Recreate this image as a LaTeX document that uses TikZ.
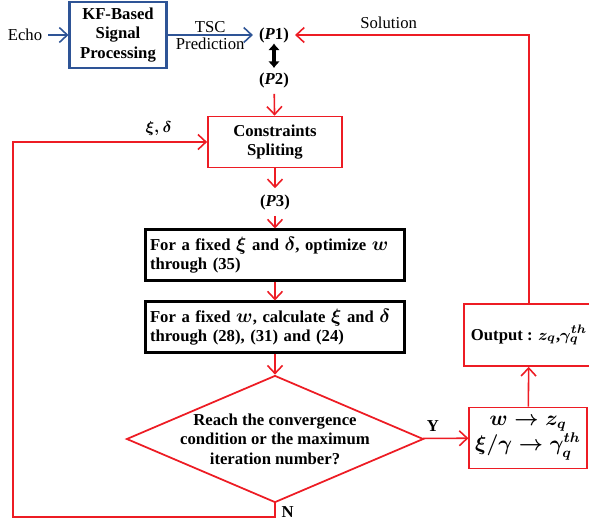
\documentclass[tikz,border=0pt]{standalone}
\usepackage{fontspec}
\setmainfont{Liberation Serif}
\usepackage{amsmath}
\usepackage{bm}
\usepackage{tikz}
\usepackage{xcolor}
\usetikzlibrary{shapes.geometric, arrows.meta, positioning, calc}
\definecolor{cRed}{RGB}{237,28,36}
\definecolor{cBlue}{RGB}{46,84,150}
\newcommand{\basefont}{\fontsize{9.5}{11}\selectfont}
\newcommand{\lgm}[1]{{\fontsize{11}{11}\selectfont$#1$}}
\tikzset{
	bluebox/.style ={rectangle, minimum width=1.94cm, minimum height=1.2cm, text centered, align=center, draw=cBlue, line width=1.2pt, font=\basefont\bfseries},
	redbox/.style  ={rectangle, text centered, align=center, draw=cRed, line width=1pt, font=\basefont\bfseries\boldmath},
	blackbox/.style={rectangle, minimum width=5.18cm, minimum height=1.02cm, text width=5.0cm, inner xsep=2.5pt, align=left, draw=black, line width=1.2pt, font=\basefont\bfseries\boldmath},
	decision/.style={diamond, minimum width=5.94cm, minimum height=2.54cm, inner sep=0pt, draw=cRed, line width=1pt},
	plabel/.style  ={font=\basefont\bfseries},
	txt/.style     ={font=\basefont},
	redarrow/.style ={-{Straight Barb[length=1.6mm, width=3mm]}, draw=cRed, line width=0.9pt},
	bluearrow/.style={-{Straight Barb[length=1.6mm, width=3mm]}, draw=cBlue, line width=0.9pt},
}

\begin{document}
\begin{tikzpicture}[x=0.02cm, y=-0.02cm]
	\useasboundingbox (0,0) rectangle (589,525);
	% signal processing part
	\node[txt] (echo) at (25,35) {Echo};
	\node[bluebox] (kf) at (118,35) {KF-Based\\Signal\\Processing};
	\node[plabel] (p1) at (274,35) {(\textit{P}1)};
	\node[plabel] (p2) at (274,80) {(\textit{P}2)};
	% iteration part
	\node[redbox, minimum width=2.68cm, minimum height=1.02cm] (split) at (275,142) {Constraints\\Spliting};
	\node[plabel] (p3) at (275,202) {(\textit{P}3)};
	\node[blackbox] (opt) at (275,255) {For a fixed \lgm{\xi} and \lgm{\delta}, optimize \lgm{w}\\through (35)};
	\node[blackbox] (calc) at (275,327) {For a fixed \lgm{w}, calculate \lgm{\xi} and \lgm{\delta}\\through (28), (31) and (24)};
	\node[decision] (conv) at (275,439) {};
	\node[txt, font=\basefont\bfseries, align=center] (convtxt) at (conv.center) {Reach the convergence\\condition or the maximum\\iteration number?};
	\node[redbox, minimum width=2.24cm, minimum height=1.22cm, font=\fontsize{11.5}{12.5}\selectfont\boldmath] (map) at (528,438) {$w\rightarrow z_q$\\$\xi/\gamma\rightarrow\gamma_q^{th}$};
	\node[redbox, minimum width=2.6cm, minimum height=1.24cm] (out) at (529,335) {Output : $z_q$,$\gamma_q^{th}$};
	\coordinate (loopcorner) at (13,517);

	\draw[bluearrow] (echo) -- (kf);
	\draw[bluearrow] (kf) -- node[txt, above, inner sep=1pt] {TSC} node[txt, below, inner sep=1pt] {Prediction} (p1);
	\draw[{Latex[length=1.3mm, width=2.4mm]}-{Latex[length=1.3mm, width=2.4mm]}, line width=2pt, shorten <=-3pt, shorten >=-1pt] (p1) -- (p2);
	\draw[redarrow] (p2) -- (split);
	\draw[redarrow] (split) -- (p3);
	\draw[redarrow] (p3) -- (opt);
	\draw[redarrow] (opt) -- (calc);
	\draw[redarrow] (calc) -- (conv);
	\draw[redarrow] (conv) -- node[plabel, above, pos=0.22] {Y} (map);
	\draw[redarrow] (map) -- (out);
	\draw[redarrow] (out) |- node[txt, above, pos=0.8] {Solution} (p1);
	\draw[redarrow] (conv.south) |- node[plabel, right, pos=0.3] {N} (loopcorner) |- node[above, pos=0.875, font=\basefont\boldmath] {$\xi,\delta$} (split);
\end{tikzpicture}
\end{document}
